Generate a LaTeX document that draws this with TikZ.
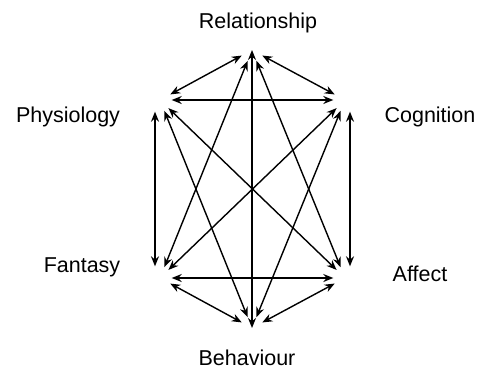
\documentclass[tikz,border=0pt]{standalone}
\usepackage{fontspec}
\setmainfont{Liberation Sans}
\usetikzlibrary{arrows.meta}

\begin{document}
\begin{tikzpicture}
  [x=1pt,y=-1pt,
  vertex/.style={circle,minimum size=22pt,inner sep=0pt},
  lbl/.style={font=\fontsize{21.5}{26}\selectfont},
  line width=1.4pt]

\tikzset{every path/.style={>={Stealth[length=10pt,width=8pt]}}}

\useasboundingbox (0,0) rectangle (477,375);

\node[vertex] (rel) at (252,50)  {};
\node[vertex] (phy) at (160,100) {};
\node[vertex] (cog) at (345,100) {};
\node[vertex] (fan) at (160,278) {};
\node[vertex] (aff) at (345,278) {};
\node[vertex] (beh) at (252,328) {};

\node[lbl] (relL) at (258,23)  {Relationship};
\node[lbl] (phyL) at (68,117)  {Physiology};
\node[lbl] (cogL) at (430,117) {Cognition};
\node[lbl] (fanL) at (82,267)  {Fantasy};
\node[lbl] (affL) at (420,274) {Affect};
\node[lbl] (behL) at (247,358) {Behaviour};

\draw[<->] (rel.center)--(beh.center);
\draw[<->] (rel)--(phy); \draw[<->] (rel)--(cog); \draw[<->] (rel)--(fan); \draw[<->] (rel)--(aff);
\draw[<->] (phy)--(cog); \draw[<->] (phy)--(aff); \draw[<->] (phy)--(beh);
\draw[<->] ([xshift=-5pt]phy.south)--([xshift=-5pt]fan.north);
\draw[<->] ([xshift=5pt]cog.south)--([xshift=5pt]aff.north);
\draw[<->] (cog)--(fan); \draw[<->] (cog)--(beh);
\draw[<->] (fan)--(aff); \draw[<->] (fan)--(beh);
\draw[<->] (aff)--(beh);
\end{tikzpicture}
\end{document}
